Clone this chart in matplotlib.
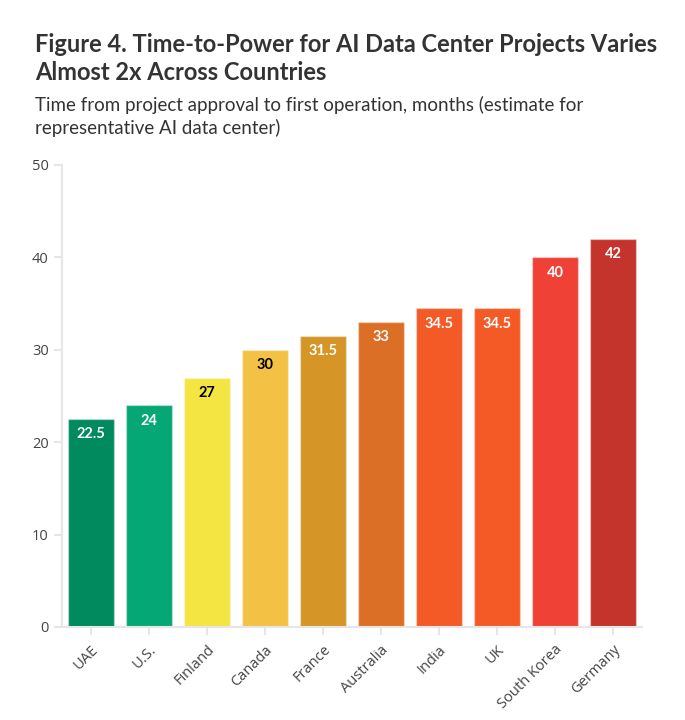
import matplotlib
matplotlib.use("Agg")
import matplotlib.pyplot as plt

# Data
countries = ["UAE", "U.S.", "Finland", "Canada", "France", "Australia",
             "India", "UK", "South Korea", "Germany"]
months = [22.5, 24, 27, 30, 31.5, 33, 34.5, 34.5, 40, 42]
labels = ["22.5", "24", "27", "30", "31.5", "33", "34.5", "34.5", "40", "42"]
bar_colors = ["#008a5e", "#05a774", "#f4e542", "#f3c143", "#d59627",
              "#dc6f26", "#f45a26", "#f45a26", "#ef4136", "#c4342d"]
label_colors = ["white", "white", "black", "black", "white",
                "white", "white", "white", "white", "white"]
yticks = [0, 10, 20, 30, 40, 50]

title = "Figure 4. Time-to-Power for AI Data Center Projects Varies\nAlmost 2x Across Countries"
subtitle = "Time from project approval to first operation, months (estimate for\nrepresentative AI data center)"

fig = plt.figure(figsize=(6.85, 7.2), dpi=100)
ax = fig.add_axes([62 / 685, 93 / 720, 580 / 685, 462 / 720])

x = list(range(len(countries)))
bars = ax.bar(x, months, width=0.81, color=bar_colors, linewidth=1.0)
for b in bars:
    b.set_edgecolor((1, 1, 1, 0.35))

for xi, v, lab, lc in zip(x, months, labels, label_colors):
    ax.annotate(lab, (xi, v), xytext=(0, -6), textcoords="offset points",
                ha="center", va="top", fontsize=10.5, fontweight="bold",
                color=lc, family="Lato")

ax.set_xlim(-0.5, 9.5)
ax.set_ylim(0, 50)
ax.set_yticks(yticks)
ax.set_xticks(x)
ax.set_xticklabels(countries, rotation=45, ha="right", rotation_mode="anchor",
                   family="Open Sans", fontsize=10.5, color="#444444")
for t in ax.get_yticklabels():
    t.set_family("Open Sans")
    t.set_fontsize(10.5)
    t.set_color("#444444")

for s in ["top", "right"]:
    ax.spines[s].set_visible(False)
for s in ["left", "bottom"]:
    ax.spines[s].set_color("#e6e6e6")
    ax.spines[s].set_linewidth(1.5)
ax.tick_params(axis="both", color="#e6e6e6", width=1.5, length=6)
ax.tick_params(axis="x", pad=5)

fig.text(35 / 685, 1 - 33 / 720, title, ha="left", va="top",
         fontsize=17, fontweight="bold", color="#333333", family="Lato",
         linespacing=1.25)
fig.text(35 / 685, 1 - 96 / 720, subtitle, ha="left", va="top",
         fontsize=13.5, color="#333333", family="Lato", linespacing=1.3)

fig.savefig("out.png", dpi=100)
